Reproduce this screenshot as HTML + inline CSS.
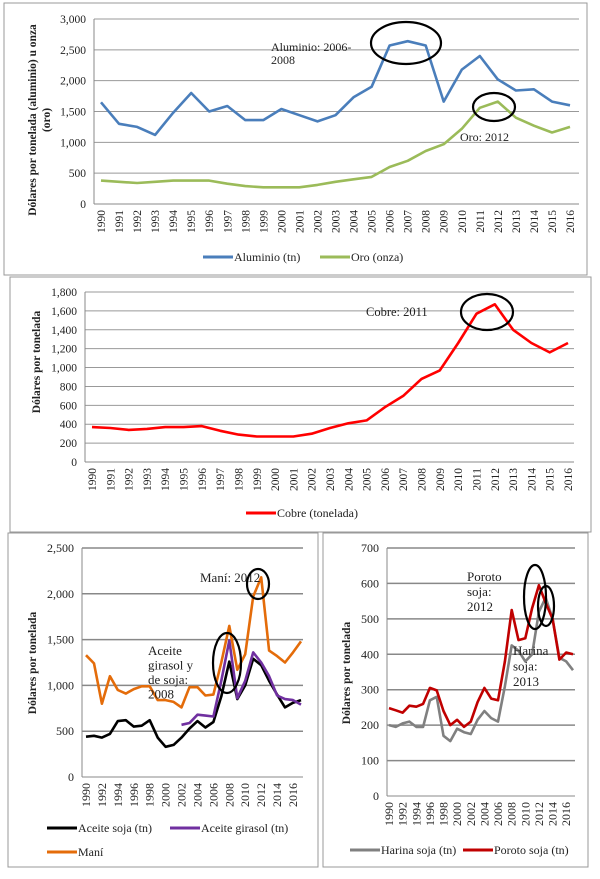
<!DOCTYPE html>
<html><head><meta charset="utf-8">
<style>
html,body{margin:0;padding:0;background:#fff;}
svg{display:block;font-family:"Liberation Serif",serif;}
</style></head>
<body>
<svg id="fig" width="600" height="879" viewBox="0 0 600 879" xmlns="http://www.w3.org/2000/svg">
  <rect x="4" y="3" width="583" height="272" fill="none" stroke="#999" stroke-width="1"/>
  <rect x="10" y="277" width="581" height="255" fill="none" stroke="#999" stroke-width="1"/>
  <rect x="8" y="533" width="310" height="334" fill="none" stroke="#999" stroke-width="1"/>
  <rect x="323" y="533" width="265" height="334" fill="none" stroke="#999" stroke-width="1"/>
  <g id="layer"></g>
</svg>
<script>
// ---- Chart 1: Aluminio / Oro ----
const years1 = [1990,1991,1992,1993,1994,1995,1996,1997,1998,1999,2000,2001,2002,2003,2004,2005,2006,2007,2008,2009,2010,2011,2012,2013,2014,2015,2016];
const aluminio = [1650,1300,1250,1120,1480,1800,1500,1590,1360,1360,1540,1440,1340,1440,1730,1900,2570,2640,2570,1660,2180,2400,2020,1840,1860,1660,1600];
const oro = [380,360,340,360,380,380,380,330,290,270,270,270,310,360,400,440,600,700,860,970,1220,1560,1660,1400,1270,1160,1250];
const ticks1 = [0,500,1000,1500,2000,2500,3000];
// ---- Chart 2: Cobre ----
const years2 = [1990,1991,1992,1993,1994,1995,1996,1997,1998,1999,2000,2001,2002,2003,2004,2005,2006,2007,2008,2009,2010,2011,2012,2013,2014,2015,2016];
const cobre = [370,360,340,350,370,370,380,330,290,270,270,270,300,360,410,440,580,700,880,970,1260,1570,1670,1400,1260,1160,1260];
const ticks2 = [0,200,400,600,800,1000,1200,1400,1600,1800];
// ---- Chart 3: Aceites / Mani ----
const years3 = [1990,1991,1992,1993,1994,1995,1996,1997,1998,1999,2000,2001,2002,2003,2004,2005,2006,2007,2008,2009,2010,2011,2012,2013,2014,2015,2016,2017];
const aceiteSoja = [440,450,430,470,610,620,550,560,620,430,330,350,430,530,610,540,600,880,1260,850,1000,1290,1220,1050,900,760,810,840];
const aceiteGirasol = [null,null,null,null,null,null,null,null,null,null,null,null,570,590,680,670,660,1050,1490,860,1050,1360,1250,1100,890,850,840,790];
const mani = [1330,1240,800,1100,950,910,960,990,990,840,840,820,760,980,980,890,900,1250,1650,1170,1340,1970,2180,1380,1320,1250,1360,1480];
const ticks3 = [0,500,1000,1500,2000,2500];
const labels3 = [1990,1992,1994,1996,1998,2000,2002,2004,2006,2008,2010,2012,2014,2016];
// ---- Chart 4: Soja ----
const years4 = [1990,1991,1992,1993,1994,1995,1996,1997,1998,1999,2000,2001,2002,2003,2004,2005,2006,2007,2008,2009,2010,2011,2012,2013,2014,2015,2016,2017];
const harinaSoja = [200,195,205,210,195,195,270,280,170,155,190,180,175,215,240,220,210,310,425,410,380,400,520,560,500,390,380,355];
const porotoSoja = [248,242,235,255,252,260,305,298,240,200,215,195,210,265,305,275,270,380,525,440,445,530,595,545,500,385,405,400];
const ticks4 = [0,100,200,300,400,500,600,700];
const labels4 = [1990,1992,1994,1996,1998,2000,2002,2004,2006,2008,2010,2012,2014,2016];

const NS = "http://www.w3.org/2000/svg";
const layer = document.getElementById('layer');
function mk(tag, attrs, parent, text){
  const e = document.createElementNS(NS, tag);
  for (const k in attrs) e.setAttribute(k, attrs[k]);
  if (text !== undefined) e.textContent = text;
  (parent || layer).appendChild(e);
  return e;
}
function scaleX(x0, y0, x1, y1){ return v => x0 + (v - y0) * (x1 - x0) / (y1 - y0); }

function axes(g, c){
  // gridlines + y tick labels
  c.ticks.forEach(t => {
    const y = c.sy(t);
    if (t !== 0) {
      const gl = mk('line', {x1:c.left, x2:c.right, y1:y, y2:y, stroke:c.grid, 'stroke-width':c.gw}, g);
      
      
    }
    const tl = mk('text', {x:c.left-8, y:y+4, 'text-anchor':'end', 'font-size':c.fs, fill:'#222'}, g, t.toLocaleString('en-US'));
    
    
  });
  const xa = mk('line', {x1:c.left, x2:c.right, y1:c.sy(0), y2:c.sy(0), stroke:'#888', 'stroke-width':1}, g);
  
  
  const ya = mk('line', {x1:c.left, x2:c.left, y1:c.sy(c.ticks[c.ticks.length-1]), y2:c.sy(0), stroke:'#888', 'stroke-width':1}, g);
  
  
  c.xlabels.forEach(yr => {
    const x = c.sx(yr), y = c.sy(0) + 6;
    const tl = mk('text', {x:0, y:0, transform:`translate(${x+4},${y}) rotate(-90)`, 'text-anchor':'end', 'font-size':c.fs, fill:'#222'}, g, String(yr));
    
    
  });
}
function series(g, c, xs, vals, color, name){
  let d = '', pen = false;
  vals.forEach((v, i) => {
    if (v === null) { pen = false; return; }
    d += (pen ? 'L' : 'M') + c.sx(xs[i]).toFixed(1) + ',' + c.sy(v).toFixed(1);
    pen = true;
  });
  const p = mk('path', {d:d, fill:'none', stroke:color, 'stroke-width':2.6, 'stroke-linejoin':'round'}, g);
  
  
}
function legend(g, x, y, color, label, name){
  const l = mk('line', {x1:x, x2:x+30, y1:y, y2:y, stroke:color, 'stroke-width':3}, g);
  
  
  const t = mk('text', {x:x+31, y:y+4, 'font-size':12, fill:'#222'}, g, label);
  
  
}
function ylabel(g, x, y, lines){
  const t = mk('text', {x:0, y:0, transform:`translate(${x},${y}) rotate(-90)`, 'text-anchor':'middle', 'font-size':11.5, 'font-weight':'bold', fill:'#222'}, g);
  
  
  lines.forEach((ln, i) => { mk('tspan', {x:0, dy: i ? 14 : 0}, t, ln); });
}
function note(g, x, y, lines, fs, lh){
  const t = mk('text', {x:x, y:y, 'font-size':fs, fill:'#222'}, g);
  
  
  lines.forEach((ln, i) => { mk('tspan', {x:x, dy: i ? lh : 0}, t, ln); });
}
function ell(g, cx, cy, rx, ry){
  const e = mk('ellipse', {cx:cx, cy:cy, rx:rx, ry:ry, fill:'none', stroke:'#000', 'stroke-width':2.2}, g);
  
  
}

// Chart 1
(function(){
  const g = mk('g', {});
  
  
  const c = {left:94, right:579, sx:scaleX(101,1990,570,2016), sy:scaleX(204,0,19,3000), ticks:ticks1, xlabels:years1, grid:'#999', gw:1, fs:11.5};
  axes(g, c);
  series(g, c, years1, aluminio, '#4a7ebb', 'aluminio-line');
  series(g, c, years1, oro, '#9bbb59', 'oro-line');
  ylabel(g, 36, 120, ['Dólares por tonelada (aluminio) u onza', '(oro)']);
  legend(g, 203, 257, '#4a7ebb', 'Aluminio (tn)', 'legend-aluminio');
  legend(g, 320, 257, '#9bbb59', 'Oro (onza)', 'legend-oro');
  note(g, 271, 51, ['Aluminio: 2006-', '2008'], 12, 13);
  note(g, 460, 141, ['Oro: 2012'], 12, 13);
  ell(g, 406, 43, 35, 21);
  ell(g, 494, 107, 21, 14);
})();
// Chart 2
(function(){
  const g = mk('g', {});
  
  
  const c = {left:85, right:574, sx:scaleX(92,1990,568,2016), sy:scaleX(462,0,292,1800), ticks:ticks2, xlabels:years2, grid:'#999', gw:1, fs:11.5};
  axes(g, c);
  series(g, c, years2, cobre, '#ff0000', 'cobre-line');
  ylabel(g, 40, 362, ['Dólares por tonelada']);
  legend(g, 246, 513, '#ff0000', 'Cobre (tonelada)', 'legend-cobre');
  note(g, 366, 316, ['Cobre: 2011'], 12.5, 13);
  ell(g, 487, 312, 26, 18);
})();
// Chart 3
(function(){
  const g = mk('g', {});
  
  
  const c = {left:82, right:303, sx:scaleX(86,1990,293,2016), sy:scaleX(777,0,548,2500), ticks:ticks3, xlabels:labels3, grid:'#888', gw:1.5, fs:12};
  axes(g, c);
  series(g, c, years3, mani, '#e46c0a', 'mani-line');
  series(g, c, years3, aceiteSoja, '#000000', 'aceite-soja-line');
  series(g, c, years3, aceiteGirasol, '#7030a0', 'aceite-girasol-line');
  ylabel(g, 36, 663, ['Dólares por tonelada']);
  legend(g, 47, 828, '#000000', 'Aceite soja (tn)', 'legend-aceite-soja');
  legend(g, 170, 828, '#7030a0', 'Aceite girasol (tn)', 'legend-aceite-girasol');
  legend(g, 47, 852, '#e46c0a', 'Maní', 'legend-mani');
  note(g, 200, 582, ['Maní: 2012'], 13, 14);
  note(g, 148, 655, ['Aceite', 'girasol y', 'de soja:', '2008'], 13, 14.5);
  ell(g, 258, 584, 11, 15);
  ell(g, 227, 663, 14, 30);
})();
// Chart 4
(function(){
  const g = mk('g', {});
  
  
  const c = {left:387, right:575, sx:scaleX(389,1990,573,2017), sy:scaleX(796,0,548,700), ticks:ticks4, xlabels:labels4, grid:'#888', gw:1.5, fs:12};
  axes(g, c);
  series(g, c, years4, harinaSoja, '#808080', 'harina-soja-line');
  series(g, c, years4, porotoSoja, '#c00000', 'poroto-soja-line');
  ylabel(g, 350, 673, ['Dólares por tonelada']);
  legend(g, 350, 850, '#808080', 'Harina soja (tn)', 'legend-harina-soja');
  legend(g, 463, 850, '#c00000', 'Poroto soja (tn)', 'legend-poroto-soja');
  note(g, 467, 581, ['Poroto', 'soja:', '2012'], 13, 15);
  note(g, 513, 655, ['Harina', 'soja:', '2013'], 13, 15.5);
  ell(g, 535, 597, 11, 32);
  ell(g, 546, 606, 8, 20);
})();
</script>
</body></html>
